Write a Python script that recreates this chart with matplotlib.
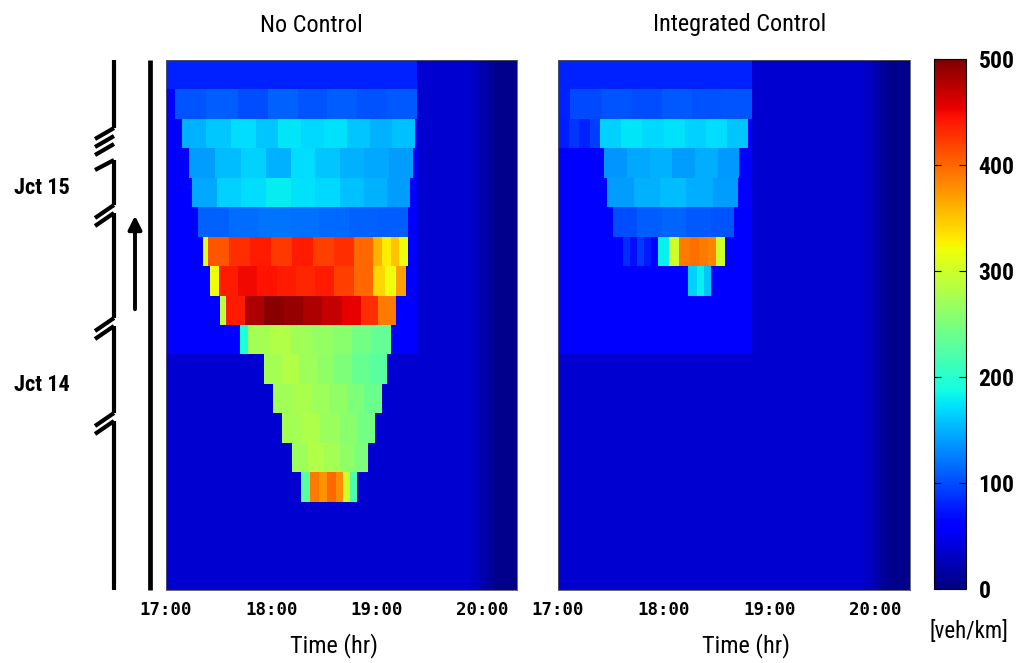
import numpy as np
import matplotlib

matplotlib.use("Agg")
import matplotlib.pyplot as plt
from matplotlib import font_manager

# ---- data: density (veh/km) on 18 road sections, 17:00 - 20:20 ----
N_ROWS = 18
N_MIN = 200
TIME_TICKS = [17, 18, 19, 20]
TIME_LABELS = ["17:00", "18:00", "19:00", "20:00"]
CBAR_TICKS = [0, 100, 200, 300, 400, 500]

# background levels
BRIGHT_ROWS = 10          # upstream sections with a lighter free-flow level
BG_BRIGHT = 60
BG_DARK = 37
BRIGHT_END_NC = 143       # minutes after 17:00
BRIGHT_END_IC = 110
TAIL_START = [174, 179, 183, 187]
TAIL_VALUES = [30, 20, 12, 7]

# No Control: row, start minute, end minute, values across the span
NC_ROW = [0, 1, 2, 3, 4, 5,
          6, 6, 6,
          7, 7, 7,
          8, 8,
          9, 9,
          10, 11, 12, 13,
          14, 14, 14]
NC_START = [0, 5, 9, 13, 15, 18,
            21, 24, 118,
            25, 30, 118,
            31, 34,
            42, 47,
            56, 61, 66, 72,
            77, 82, 101]
NC_END = [143, 143, 142, 141, 139, 138,
          24, 118, 138,
          30, 118, 137,
          34, 131,
          47, 128,
          126, 123, 119, 115,
          82, 101, 109]
NC_VALUES = [
    [80],
    [104, 108, 100, 110, 104, 108, 102, 106],
    [150, 162, 170, 160, 175, 168, 172, 160, 150, 158],
    [140, 155, 165, 150, 170, 160, 150, 145, 140],
    [145, 165, 170, 178, 172, 168, 158, 150, 140],
    [110, 116, 120, 118, 114, 110, 108],
    [310],
    [410, 430, 440, 425, 440, 420, 430, 400],
    [360, 330, 350, 320],
    [320],
    [440, 450, 445, 440, 435, 440, 420, 400],
    [340, 320, 370],
    [290],
    [440, 480, 495, 490, 480, 470, 455, 430, 390],
    [195],
    [275, 282, 272, 265, 258, 245, 235],
    [275, 282, 270, 262, 250, 238, 230],
    [272, 278, 270, 262, 250, 240],
    [275, 280, 268, 258, 245],
    [270, 282, 275, 262, 250],
    [230],
    [390, 375, 400, 380],
    [300, 220],
]

# Integrated Control
IC_ROW = [0, 1, 1, 2, 2, 3, 4, 5, 6, 6, 7]
IC_START = [0, 0, 7, 0, 24, 26, 28, 31, 37, 57, 74]
IC_END = [110, 7, 110, 24, 108, 103, 102, 100, 53, 95, 87]
IC_VALUES = [
    [80],
    [80],
    [98, 104, 100, 106, 102, 105],
    [78, 88, 80, 92],
    [165, 175, 168, 172, 165, 170, 160],
    [135, 145, 150, 140, 148, 138],
    [140, 150, 155, 148, 140],
    [100, 108, 112, 106, 104],
    [85, 70, 90, 75],
    [180, 300, 390, 395, 390, 385, 300],
    [165, 180, 160],
]

NARROW_CANDIDATES = ["Liberation Sans Narrow", "Roboto Condensed", "Open Sans Condensed", "DejaVu Sans"]


def pick_font(names):
    available = {f.name for f in font_manager.fontManager.ttflist}
    for name in names:
        if name in available:
            return name
    return "DejaVu Sans"


def build_field(rows, starts, ends, values, bright_end):
    field = np.full((N_ROWS, N_MIN), float(BG_DARK))
    field[:BRIGHT_ROWS, :bright_end] = BG_BRIGHT
    for row, start, end, vals in zip(rows, starts, ends, values):
        cols = np.arange(int(round(start)), int(round(end)))
        for chunk, val in zip(np.array_split(cols, len(vals)), vals):
            field[row, chunk] = val
    for start, val in zip(TAIL_START, TAIL_VALUES):
        field[:, start:] = val
    return field


narrow = pick_font(NARROW_CANDIDATES)
W, H = 1017, 663
fig = plt.figure(figsize=(W / 100, H / 100), dpi=100)


def px_axes(x0, y0, x1, y1):
    return fig.add_axes([x0 / W, 1 - y1 / H, (x1 - x0) / W, (y1 - y0) / H])


def fig_text(x, y, s, **kw):
    fig.text(x / W, 1 - y / H, s, ha="center", va="center", **kw)


x_edges = 17 + np.arange(N_MIN + 1) / 60
y_edges = np.arange(N_ROWS + 1)

panels = [
    (166, 517, build_field(NC_ROW, NC_START, NC_END, NC_VALUES, BRIGHT_END_NC)),
    (558, 910, build_field(IC_ROW, IC_START, IC_END, IC_VALUES, BRIGHT_END_IC)),
]
mesh = None
for x0, x1, field in panels:
    ax = px_axes(x0, 60, x1, 590)
    mesh = ax.pcolormesh(x_edges, y_edges, field, cmap="jet", vmin=0, vmax=500, shading="flat")
    ax.set_xlim(x_edges[0], x_edges[-1])
    ax.set_ylim(N_ROWS, 0)
    ax.set_yticks([])
    ax.set_xticks(TIME_TICKS)
    ax.set_xticklabels(TIME_LABELS, family="DejaVu Sans Mono", fontweight="bold", fontsize=12.5)
    ax.tick_params(axis="x", length=0, pad=8)
    for spine in ax.spines.values():
        spine.set_linewidth(0.6)
        spine.set_color("#555555")

label_font = dict(family=[narrow, "DejaVu Sans"], fontstretch="condensed")

# titles and axis labels
fig_text(311, 25, "No Control", fontsize=17.5, **label_font)
fig_text(740, 25, "Integrated Control", fontsize=17.5, **label_font)
fig_text(334, 646, "Time (hr)", fontsize=17.5, **label_font)
fig_text(746, 646, "Time (hr)", fontsize=17.5, **label_font)

# colorbar
cax = px_axes(934, 59, 966, 589)
cbar = fig.colorbar(mesh, cax=cax, ticks=CBAR_TICKS)
cbar.outline.set_linewidth(0.8)
cax.tick_params(direction="in", length=5, width=0.8, left=True, right=True, pad=9)
for label in cax.get_yticklabels():
    label.set_family([narrow, "DejaVu Sans"])
    label.set_fontstretch("condensed")
    label.set_fontweight("bold")
    label.set_fontsize(17)
fig_text(969, 632, "[veh/km]", fontsize=16.5, **label_font)

# road schematic on the left
road = px_axes(0, 0, 166, H)
road.set_xlim(0, 166)
road.set_ylim(H, 0)
road.axis("off")
lw = 3.0
road.plot([150, 150], [60, 590], color="black", lw=3.4, solid_capstyle="butt")
main_segments = [(60, 128), (160, 205), (213, 318), (326, 413), (421, 590)]
for top, bottom in main_segments:
    road.plot([114, 114], [top, bottom], color="black", lw=lw, solid_capstyle="butt")
strokes = [(139, 128), (147, 136), (155, 144), (170, 160),
           (218, 205), (226, 213),
           (331, 318), (339, 326),
           (426, 413), (434, 421)]
for y_left, y_right in strokes:
    road.plot([95, 114], [y_left, y_right], color="black", lw=lw, solid_capstyle="butt")
road.annotate("", xy=(135, 213), xytext=(135, 312),
              arrowprops=dict(arrowstyle="-|>", lw=2.8, color="black", mutation_scale=20))
road.text(42, 188, "Jct 15", ha="center", va="center", fontsize=16, fontweight="bold", **label_font)
road.text(42, 385, "Jct 14", ha="center", va="center", fontsize=16, fontweight="bold", **label_font)

fig.savefig("out.png", dpi=100)
